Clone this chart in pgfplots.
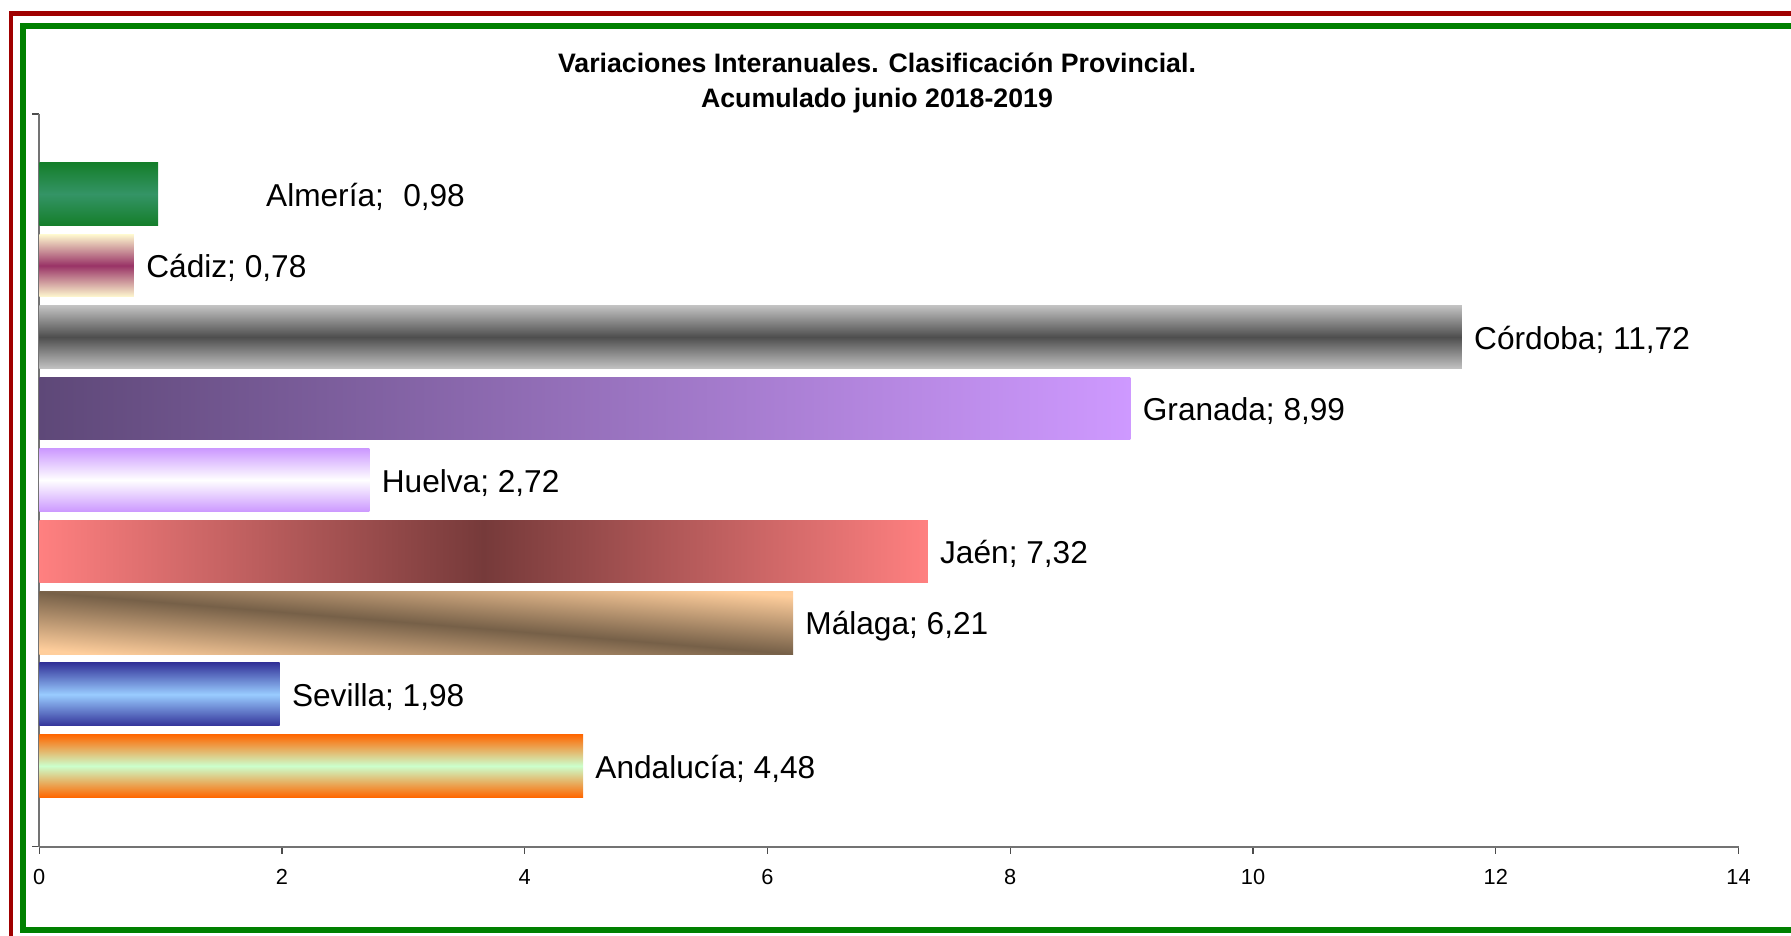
\documentclass[border=0pt]{standalone}
\usepackage{fontspec}
\setmainfont{Liberation Sans}
\usepackage{pgfplots}
\pgfplotsset{compat=1.18}

% frame colours
\definecolor{frameRed}{RGB}{160,0,0}
\definecolor{frameGreen}{RGB}{0,128,0}
% bar colours: E = edge, M = middle of the gradient
\definecolor{almE}{RGB}{20,126,42}
\definecolor{almM}{RGB}{52,148,102}
\definecolor{cadE}{RGB}{255,250,208}
\definecolor{cadM}{RGB}{153,51,102}
\definecolor{corE}{RGB}{194,194,194}
\definecolor{corM}{RGB}{78,78,78}
\definecolor{graL}{RGB}{94,72,120}
\definecolor{graR}{RGB}{206,153,255}
\definecolor{hueE}{RGB}{204,153,255}
\definecolor{jaeE}{RGB}{255,128,128}
\definecolor{jaeM}{RGB}{118,58,58}
\definecolor{malE}{RGB}{255,206,156}
\definecolor{malM}{RGB}{118,96,72}
\definecolor{sevE}{RGB}{51,51,153}
\definecolor{sevM}{RGB}{153,204,255}
\definecolor{andE}{RGB}{255,102,0}
\definecolor{andM}{RGB}{204,255,204}

\begin{document}
\begin{tikzpicture}
\useasboundingbox (0,0) rectangle (17.91,9.36);
\clip (0,0) rectangle (17.91,9.36);

% double frame, cut by the picture edge on the right and at the bottom
\draw[frameRed, line width=0.45mm] (0.11,-1) rectangle (19,9.227);
\draw[frameGreen, line width=0.6mm] (0.233,0.06) rectangle (19,9.103);

\node[font=\bfseries\fontsize{7.6}{9.7}\selectfont, align=center]
  at (8.77,8.53) {Variaciones Interanuales. Clasificación Provincial.\\Acumulado junio 2018-2019};

\begin{axis}[
    at={(0.393cm,0.893cm)}, anchor=south west,
    scale only axis,
    width=16.992cm, height=7.327cm,
    xmin=0, xmax=14,
    ymin=-1.13, ymax=9.12,
    axis x line*=bottom,
    axis y line*=left,
    xtick={0,2,...,14},
    ytick={-1.13,9.12},
    yticklabels={},
    tick align=outside,
    major tick length=0.7mm,
    tick style={black!70, line width=0.4pt},
    axis line style={draw=black!55, line width=0.5pt},
    ticklabel style={font=\fontsize{6.2}{7}\selectfont},
    xticklabel style={yshift=-0.35mm},
    /pgf/number format/assume math mode=true,
    clip=false,
    hb/.style={xbar, bar width=0.88, bar shift=0pt, draw=none},
    every node near coord/.append style={font=\fontsize{9}{10}\selectfont, text=black, yshift=-0.28mm},
]
  \addplot[hb, top color=almE, bottom color=almE, middle color=almM,
    nodes near coords={Almería;\hspace{5.5pt}0,98},
    every node near coord/.append style={xshift=9.55mm}]
    coordinates {(0.98,8)};
  \addplot[hb, top color=cadE, bottom color=cadE, middle color=cadM,
    nodes near coords={Cádiz; 0,78}]
    coordinates {(0.78,7)};
  \addplot[hb, top color=corE, bottom color=corE, middle color=corM,
    nodes near coords={Córdoba; 11,72}]
    coordinates {(11.72,6)};
  \addplot[hb, left color=graL, right color=graR,
    nodes near coords={Granada; 8,99}]
    coordinates {(8.99,5)};
  \addplot[hb, top color=hueE, bottom color=hueE, middle color=white,
    nodes near coords={Huelva; 2,72}]
    coordinates {(2.72,4)};
  \addplot[hb, left color=jaeE, right color=jaeE, middle color=jaeM,
    nodes near coords={Jaén; 7,32}]
    coordinates {(7.32,3)};
  \addplot[hb, top color=malE, bottom color=malE, middle color=malM, shading angle=-4.7,
    nodes near coords={Málaga; 6,21}]
    coordinates {(6.21,2)};
  \addplot[hb, top color=sevE, bottom color=sevE, middle color=sevM,
    nodes near coords={Sevilla; 1,98}]
    coordinates {(1.98,1)};
  \addplot[hb, top color=andE, bottom color=andE, middle color=andM,
    nodes near coords={Andalucía; 4,48}]
    coordinates {(4.48,0)};
\end{axis}
\end{tikzpicture}
\end{document}
